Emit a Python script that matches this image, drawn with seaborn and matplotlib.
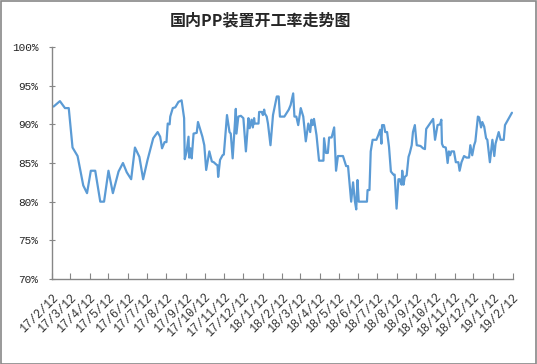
import pandas as pd
import matplotlib
matplotlib.use('Agg')
import matplotlib.pyplot as plt
import matplotlib.ticker as mticker
from matplotlib.patches import Rectangle
import seaborn as sns

# Operating rate of domestic PP plants (%), days counted from 2017-02-12
start_date = '2017-02-12'
day_offsets = [2, 12, 20, 26, 32, 40, 49, 55, 61, 68, 76, 82, 89, 96, 105, 112, 118, 125, 131, 138,
               144, 151, 160, 167, 171, 174, 178, 181, 183, 186, 187, 191, 195, 200, 205, 209, 210, 213, 216, 217,
               219, 221, 224, 229, 231, 234, 238, 241, 244, 249, 253, 256, 260, 262, 263, 266, 270, 272, 277, 281,
               283, 286, 291, 292, 295, 299, 303, 307, 311, 313, 316, 318, 320, 321, 327, 328, 332, 334, 336, 337,
               340, 342, 346, 350, 356, 359, 361, 368, 375, 378, 382, 384, 387, 390, 394, 398, 402, 406, 409, 411,
               413, 415, 419, 423, 430, 431, 434, 437, 439, 443, 447, 450, 453, 461, 466, 469, 474, 477, 480, 482,
               484, 486, 499, 500, 503, 505, 508, 514, 517, 520, 522, 523, 526, 528, 531, 534, 537, 541, 543, 546,
               549, 551, 554, 555, 557, 559, 562, 565, 567, 570, 572, 575, 578, 584, 588, 591, 593, 599, 604, 607,
               611, 615, 617, 618, 620, 624, 625, 627, 629, 631, 633, 637, 640, 644, 646, 649, 653, 657, 661, 663,
               666, 669, 671, 675, 677, 680, 682, 685, 688, 690, 694, 697, 698, 701, 703, 706, 708, 711, 716, 718,
               729]
rates = [92.3, 93.0, 92.1, 92.1, 87.0, 85.9, 82.1, 81.1, 84.0, 84.0, 80.0, 80.0, 84.0, 81.1, 83.9, 85.0, 83.8, 82.9, 87.0, 85.8,
         82.9, 85.4, 88.2, 89.0, 88.4, 86.9, 87.7, 87.7, 90.1, 90.0, 91.0, 92.1, 92.2, 92.9, 93.1, 90.8, 85.5, 86.5, 88.4, 85.7,
         86.9, 85.6, 88.8, 88.9, 90.3, 89.5, 88.4, 87.3, 84.1, 86.5, 85.2, 85.1, 84.8, 84.7, 83.2, 85.4, 86.0, 86.1, 91.2, 89.0,
         88.8, 85.6, 92.0, 88.8, 91.0, 91.1, 90.8, 86.5, 90.8, 89.5, 90.6, 89.6, 90.8, 90.1, 90.1, 91.6, 91.6, 91.2, 91.9, 91.4,
         91.0, 90.1, 87.3, 91.2, 93.6, 93.6, 91.0, 91.0, 91.9, 92.5, 94.0, 91.0, 91.0, 89.9, 92.1, 91.0, 87.8, 90.1, 89.0, 90.6,
         89.9, 90.7, 88.6, 85.3, 85.3, 88.2, 86.3, 86.3, 88.3, 88.3, 89.6, 84.0, 85.9, 85.9, 84.6, 84.6, 80.0, 82.5, 80.0, 79.0,
         82.8, 80.0, 80.0, 81.5, 81.5, 86.5, 88.0, 88.0, 88.6, 89.3, 87.5, 89.9, 89.9, 89.0, 89.0, 87.1, 83.9, 83.5, 83.5, 79.1,
         82.9, 82.9, 82.2, 84.0, 82.2, 83.2, 83.4, 85.8, 86.3, 87.3, 89.0, 89.9, 87.3, 87.2, 86.9, 86.8, 89.4, 90.1, 90.7, 88.0,
         89.9, 90.0, 90.6, 87.5, 87.1, 87.0, 86.5, 85.0, 86.5, 86.0, 86.5, 86.5, 85.1, 85.1, 84.0, 85.1, 85.9, 85.7, 85.7, 87.3,
         86.0, 87.3, 87.8, 91.0, 90.9, 89.6, 90.3, 89.7, 88.2, 88.0, 85.1, 87.3, 88.0, 85.9, 87.5, 88.4, 89.0, 88.0, 88.0, 89.9,
         91.5]

tick_dates = pd.date_range('2017-02-12', periods=25, freq=pd.DateOffset(months=1))
tick_labels = [f'{d.year % 100}/{d.month}/{d.day}' for d in tick_dates]

df = pd.DataFrame({'date': pd.Timestamp(start_date) + pd.to_timedelta(day_offsets, unit='D'),
                   'rate': rates})

sns.set_style('ticks')
plt.rcParams['font.family'] = ['Noto Sans CJK SC', 'DejaVu Sans']

fig = plt.figure(figsize=(5.37, 3.64), dpi=100)
ax = fig.add_axes([0.0975, 0.2335, 0.857, 0.6374])

sns.lineplot(data=df, x='date', y='rate', ax=ax, color='#5B9BD5', linewidth=1.6)

ax.set_xlim(tick_dates[0], tick_dates[-1])
ax.set_ylim(70, 100)
ax.set_yticks(range(70, 101, 5))
ax.yaxis.set_major_formatter(mticker.FuncFormatter(lambda v, p: f'{int(v)}%'))
ax.set_xticks(tick_dates)
ax.set_xticklabels(tick_labels, rotation=45, ha='right', rotation_mode='anchor')
ax.set_xlabel('')
ax.set_ylabel('')

sns.despine(ax=ax)
for side in ['left', 'bottom']:
    ax.spines[side].set_color('#868686')
    ax.spines[side].set_linewidth(1.0)
ax.tick_params(axis='x', direction='in', length=4, color='#868686', pad=9,
               labelsize=8.5, labelfontfamily='Liberation Mono', labelcolor='#333333')
ax.tick_params(axis='y', direction='inout', length=4, color='#868686', pad=8,
               labelsize=8, labelfontfamily='Liberation Mono', labelcolor='#222222')

fig.text(0.486, 0.943, '国内PP装置开工率走势图', ha='center', va='center',
         fontsize=11.5, fontweight='bold')

fig.add_artist(Rectangle((0.001, 0.001), 0.997, 0.997, transform=fig.transFigure,
                         fill=False, edgecolor='#888888', linewidth=1.2))

fig.savefig('out.png', dpi=100)
